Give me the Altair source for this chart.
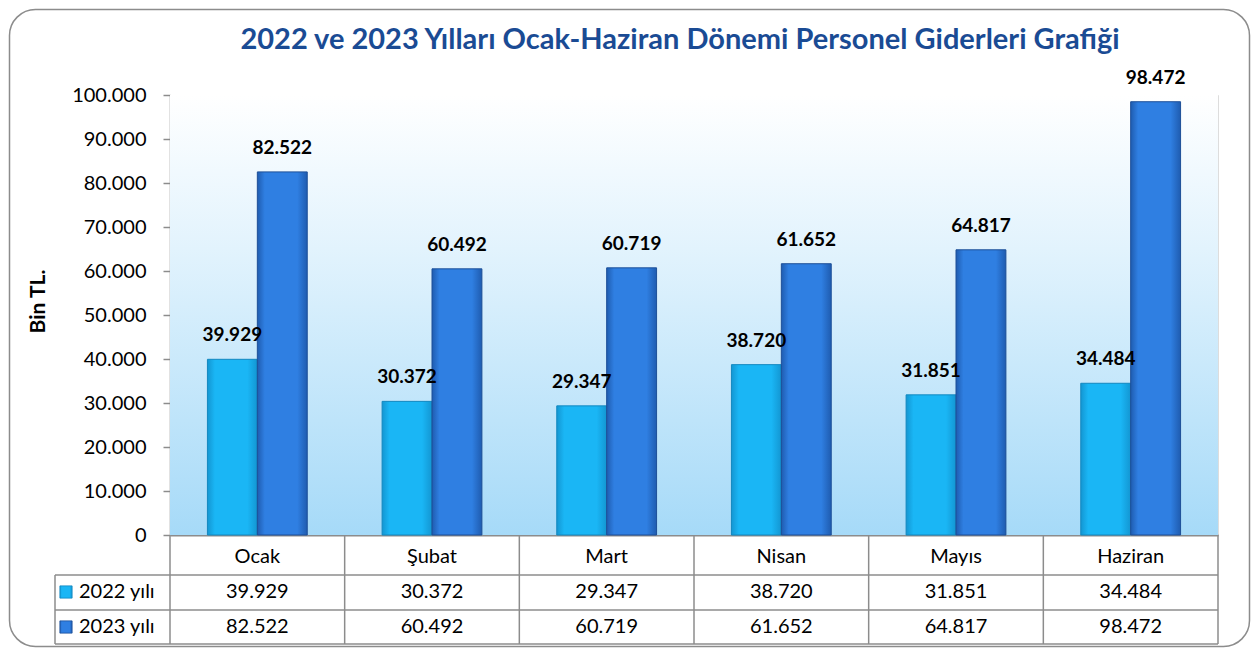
import altair as alt
import pandas as pd

months = ["Ocak", "Şubat", "Mart", "Nisan", "Mayıs", "Haziran"]
years = ["2022 yılı", "2023 yılı"]
v2022 = [39929, 30372, 29347, 38720, 31851, 34484]
v2023 = [82522, 60492, 60719, 61652, 64817, 98472]
y_ticks = [0, 10000, 20000, 30000, 40000, 50000, 60000, 70000, 80000, 90000, 100000]
chart_title = "2022 ve 2023 Yılları Ocak-Haziran Dönemi Personel Giderleri Grafiği"
y_title = "Bin TL."

rows = []
for m, a, b in zip(months, v2022, v2023):
    rows.append({"ay": m, "yil": years[0], "deger": a})
    rows.append({"ay": m, "yil": years[1], "deger": b})
df = pd.DataFrame(rows)
leg_df = pd.DataFrame({"yil": years})
one = pd.DataFrame({"k": [0]})
title_df = pd.DataFrame({"baslik": [chart_title]})

FONT = "Lato"
GRAY = "#8c8c8c"
LBL = "replace(format(datum.deger, ','), ',', '.')"


def hgrad(edge, mid):
    return alt.LinearGradient(
        gradient="linear",
        stops=[alt.GradientStop(color=edge, offset=0),
               alt.GradientStop(color=mid, offset=0.15),
               alt.GradientStop(color=mid, offset=0.8),
               alt.GradientStop(color=edge, offset=1)],
        x1=0, x2=1, y1=0, y2=0)


grad22 = hgrad("#1396d2", "#1ab6f5")
grad23 = hgrad("#1f5cb0", "#2f7fe2")
bg_grad = alt.LinearGradient(gradient="linear",
                             stops=[alt.GradientStop(color="#ffffff", offset=0),
                                    alt.GradientStop(color="#e2f3fd", offset=0.35),
                                    alt.GradientStop(color="#a6daf8", offset=1)],
                             x1=0, x2=0, y1=0, y2=1)

# table geometry (pixels relative to the plot area)
CAT_Y = 461
ROW_Y = {years[0]: 497, years[1]: 532}
H_LINES = (480, 515, 549)
T_BOTTOM = 549

xscale = alt.Scale(domain=months, paddingInner=0, paddingOuter=0)
xaxis = alt.Axis(title=None, ticks=False, tickSize=0, labelFontSize=20, labelColor="black",
                 labelFont=FONT, labelPadding=CAT_Y - 440, labelBaseline="middle", labelAngle=0,
                 domainColor=GRAY, domainWidth=2)
X = alt.X("ay:N", sort=months, scale=xscale, axis=xaxis)
XO = alt.XOffset("yil:N", scale=alt.Scale(domain=years, paddingInner=0, paddingOuter=0.75))
Y = alt.Y("deger:Q", scale=alt.Scale(domain=[0, 100000], nice=False),
          axis=alt.Axis(values=y_ticks, labelExpr="replace(format(datum.value, ','), ',', '.')",
                        title=y_title, titleFontSize=21, titleFont=FONT, titleFontWeight="bold",
                        titleColor="black", titleX=-132, titleY=206, titleBaseline="middle",
                        titleAlign="center", titleAngle=-90,
                        labelFontSize=20, labelFont=FONT, labelColor="black", labelPadding=17,
                        grid=False, tickSize=7, tickColor=GRAY, tickWidth=1.5,
                        domainColor=GRAY, domainWidth=1.5))

background = alt.Chart(one).mark_rect(fill=bg_grad).encode(
    x=alt.value(0), x2=alt.value(1048), y=alt.value(0), y2=alt.value(440))

title_mark = alt.Chart(title_df).mark_text(
    font=FONT, fontSize=29, fontWeight="bold", color="#1a4b94", baseline="middle",
    align="center").encode(x=alt.value(510), y=alt.value(-55), text="baslik:N")

base = alt.Chart(df).transform_calculate(lbl=LBL)

bars22 = base.transform_filter(alt.datum.yil == years[0]).mark_bar(
    fill=grad22, stroke="#1388c0", strokeWidth=1).encode(x=X, xOffset=XO, y=Y)
bars23 = base.transform_filter(alt.datum.yil == years[1]).mark_bar(
    fill=grad23, stroke="#1d4f98", strokeWidth=1).encode(x=X, xOffset=XO, y=Y)

labels = base.mark_text(font=FONT, fontSize=19, fontWeight="bold", color="black",
                        baseline="bottom", dy=-14).encode(x=X, xOffset=XO, y=Y, text="lbl:N")

table_layers = []
for yr in years:
    yc = ROW_Y[yr]
    table_layers.append(
        base.transform_filter(alt.datum.yil == yr).mark_text(
            font=FONT, fontSize=20, color="black", baseline="middle").encode(
            x=X, y=alt.value(yc), text="lbl:N"))
    table_layers.append(
        alt.Chart(leg_df).transform_filter(alt.datum.yil == yr).mark_square(
            size=150, filled=True, fill=grad22 if yr == years[0] else grad23,
            stroke="#1d4f98" if yr == years[1] else "#1388c0", strokeWidth=0.8, opacity=1).encode(
            x=alt.value(-104), y=alt.value(yc)))
    table_layers.append(
        alt.Chart(leg_df).transform_filter(alt.datum.yil == yr).mark_text(
            font=FONT, fontSize=20, color="black", align="left", baseline="middle").encode(
            x=alt.value(-91), y=alt.value(yc), text="yil:N"))

XR0 = alt.X("ay:N", sort=months, scale=xscale, axis=xaxis, bandPosition=0)
XR1 = alt.X("ay:N", sort=months, scale=xscale, axis=xaxis, bandPosition=1)
vrules = alt.Chart(df).transform_filter(alt.datum.yil == years[0]).mark_rule(
    color=GRAY, strokeWidth=1.5).encode(x=XR0, y=alt.value(440), y2=alt.value(T_BOTTOM))
vlast = alt.Chart(df).transform_filter(
    (alt.datum.yil == years[0]) & (alt.datum.ay == months[-1])).mark_rule(
    color=GRAY, strokeWidth=1.5).encode(x=XR1, y=alt.value(440), y2=alt.value(T_BOTTOM))
vleft = alt.Chart(one).mark_rule(color=GRAY, strokeWidth=1.5).encode(
    x=alt.value(-115), y=alt.value(H_LINES[0]), y2=alt.value(T_BOTTOM))
hrules = [alt.Chart(one).mark_rule(color=GRAY, strokeWidth=1.5).encode(
    x=alt.value(-115), x2=alt.value(1048), y=alt.value(yy)) for yy in H_LINES]

border = alt.Chart(one).mark_rect(fillOpacity=0, stroke=GRAY, strokeWidth=1.5,
                                  cornerRadius=26).encode(
    x=alt.value(-160.5), x2=alt.value(1079.5), y=alt.value(-85.5), y2=alt.value(551.5))

chart = alt.layer(
    background, bars22, bars23, labels, *table_layers, vrules, vlast, vleft, *hrules, border,
    title_mark
).properties(
    width=1048, height=440,
    padding={"left": 162, "top": 87, "right": 33, "bottom": 113},
    autosize=alt.AutoSizeParams(type="none"),
).configure_view(
    stroke="transparent",
).configure(font=FONT)

chart.save("out.html", embed_options={"renderer": "svg", "actions": False})
